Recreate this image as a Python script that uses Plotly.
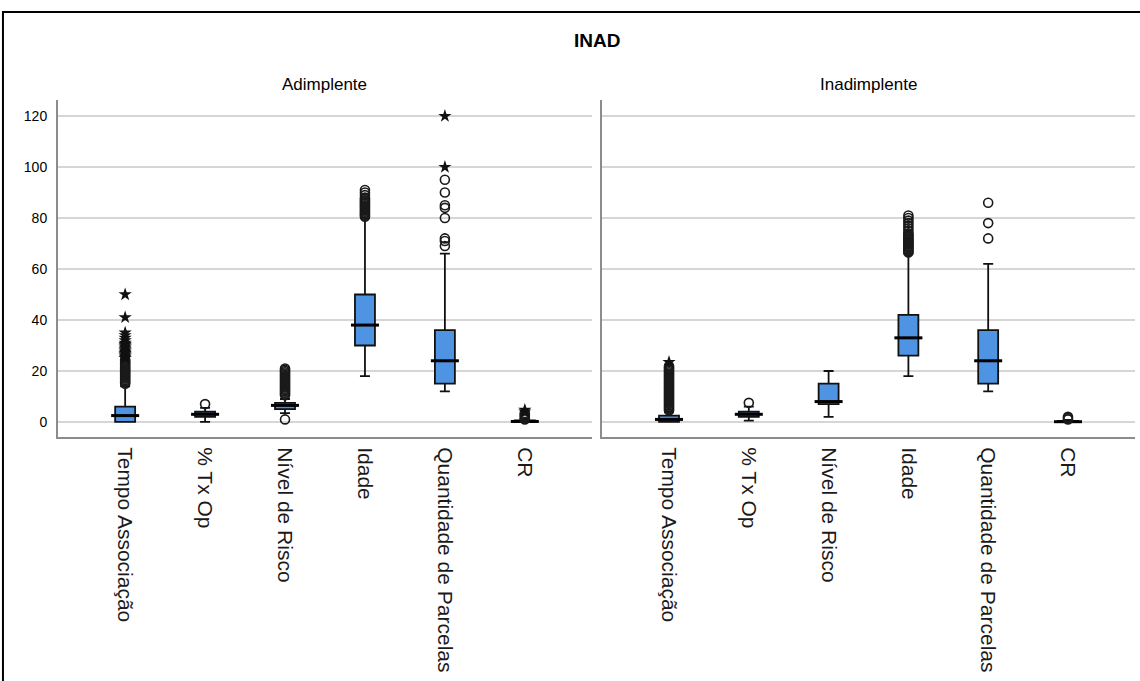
import plotly.graph_objects as go

categories = ["Tempo Associação", "% Tx Op", "Nível de Risco", "Idade", "Quantidade de Parcelas", "CR"]
y_ticks = [0, 20, 40, 60, 80, 100, 120]

# Adimplente panel
adim_q1 = [0, 2, 5, 30, 15, 0]
adim_median = [2.5, 3, 6.5, 38, 24, 0.2]
adim_q3 = [6, 4, 7.5, 50, 36, 0.6]
adim_low = [0, 0, 3.5, 18, 12, 0]
adim_high = [14, 5.5, 9, 80, 66, 1.2]
adim_circles = {
    "Tempo Associação": [15, 15.5, 16, 16.5, 17, 17.5, 18, 18.5, 19, 19.5, 20, 20.5,
                         21, 21.5, 22, 22.5, 23, 23.5, 24, 24.5],
    "% Tx Op": [7],
    "Nível de Risco": [1, 10.5, 11, 11.5, 12, 12.5, 13, 13.5, 14, 14.5, 15, 15.5, 16,
                       16.5, 17, 17.5, 18, 18.5, 19, 19.5, 20, 20.5, 21],
    "Idade": [80.5, 81, 81.5, 82, 82.5, 83, 83.5, 84, 84.5, 85, 85.5, 86, 86.5, 87,
              87.5, 88, 89, 90, 91],
    "Quantidade de Parcelas": [69, 71, 72, 80, 84, 85, 90, 95],
    "CR": [1, 1.5, 2, 2.5, 3, 3.5],
}
adim_stars = {
    "Tempo Associação": [25, 25.5, 26, 26.5, 27, 27.5, 28, 28.5, 29, 29.5, 30, 30.5,
                         31, 32, 33, 34, 35, 41, 50],
    "Quantidade de Parcelas": [100, 120],
    "CR": [4, 4.7],
}

# Inadimplente panel
inad_q1 = [0, 2, 7, 26, 15, 0]
inad_median = [1, 3, 8, 33, 24, 0.1]
inad_q3 = [2.5, 4, 15, 42, 36, 0.4]
inad_low = [0, 0.5, 2, 18, 12, 0]
inad_high = [4, 6, 20, 66, 62, 0.8]
inad_circles = {
    "Tempo Associação": [4.5, 5, 5.5, 6, 6.5, 7, 7.5, 8, 8.5, 9, 9.5, 10, 10.5, 11,
                         11.5, 12, 12.5, 13, 13.5, 14, 14.5, 15, 15.5, 16, 16.5, 17,
                         17.5, 18, 18.5, 19, 19.5, 20, 20.5, 21, 21.5, 22],
    "% Tx Op": [7.5],
    "Idade": [66.5, 67, 67.5, 68, 68.5, 69, 69.5, 70, 70.5, 71, 71.5, 72, 72.5, 73,
              73.5, 74, 75, 76, 77, 78, 79, 80, 81],
    "Quantidade de Parcelas": [72, 78, 86],
    "CR": [1, 1.5, 2],
}
inad_stars = {
    "Tempo Associação": [23.5],
}

FONT = "Liberation Sans, Arial, sans-serif"
BOX_FILL = "#4f93e3"

fig = go.Figure()


def add_panel(xa, ya, q1, med, q3, low, high, circles, stars):
    fig.add_trace(go.Box(
        x=categories, q1=q1, median=med, q3=q3, lowerfence=low, upperfence=high,
        boxpoints=False, width=0.25, whiskerwidth=0.5,
        fillcolor=BOX_FILL, line=dict(color="#111111", width=1.8),
        xaxis=xa, yaxis=ya, showlegend=False, hoverinfo="skip",
    ))
    fig.add_trace(go.Scatter(
        x=categories, y=med, mode="markers",
        marker=dict(symbol="line-ew", size=20, line=dict(color="#000000", width=3)),
        xaxis=xa, yaxis=ya, showlegend=False, hoverinfo="skip",
    ))
    cx, cy = [], []
    for c, vals in circles.items():
        cx += [c] * len(vals)
        cy += vals
    fig.add_trace(go.Scatter(
        x=cx, y=cy, mode="markers",
        marker=dict(symbol="circle-open", size=9, color="#1a1a1a", line=dict(width=1.6)),
        xaxis=xa, yaxis=ya, showlegend=False, hoverinfo="skip",
    ))
    sx, sy = [], []
    for c, vals in stars.items():
        sx += [c] * len(vals)
        sy += vals
    fig.add_trace(go.Scatter(
        x=sx, y=sy, mode="markers",
        marker=dict(symbol="star", size=10, color="#111111"),
        xaxis=xa, yaxis=ya, showlegend=False, hoverinfo="skip",
    ))


add_panel("x", "y", adim_q1, adim_median, adim_q3, adim_low, adim_high, adim_circles, adim_stars)
add_panel("x2", "y2", inad_q1, inad_median, inad_q3, inad_low, inad_high, inad_circles, inad_stars)

xcommon = dict(
    type="category", categoryorder="array", categoryarray=categories,
    range=[-0.84, 5.84], showline=True, linecolor="#8c8c8c", linewidth=2,
    showgrid=False, zeroline=False, tickangle=90, ticks="",
    tickfont=dict(family=FONT, size=21, color="#1a1a1a"), ticklabelstandoff=4,
)
ycommon = dict(
    range=[-5.9, 126.3], tickvals=y_ticks, showline=True, linecolor="#8c8c8c", linewidth=2,
    showgrid=True, gridcolor="#d6d6d6", gridwidth=2, zeroline=False, ticks="",
)

fig.update_layout(
    width=1140, height=681,
    margin=dict(l=58, r=5, t=100, b=244),
    paper_bgcolor="white", plot_bgcolor="white",
    font=dict(family=FONT, color="#000000"),
    xaxis=dict(domain=[0, 0.4958], anchor="y", **xcommon),
    xaxis2=dict(domain=[0.5051, 1], anchor="y2", **xcommon),
    yaxis=dict(anchor="x", tickfont=dict(family=FONT, size=14, color="#000000"),
               ticklabelstandoff=6, **ycommon),
    yaxis2=dict(anchor="x2", matches="y", showticklabels=False, **ycommon),
    annotations=[
        dict(text="<b>INAD</b>", x=0.5, y=1.178, xref="paper", yref="paper",
             xanchor="center", yanchor="middle", showarrow=False,
             font=dict(family=FONT, size=19, color="#000000")),
        dict(text="Adimplente", x=0.2479, y=1.047, xref="paper", yref="paper",
             xanchor="center", yanchor="middle", showarrow=False,
             font=dict(family=FONT, size=17, color="#000000")),
        dict(text="Inadimplente", x=0.7526, y=1.047, xref="paper", yref="paper",
             xanchor="center", yanchor="middle", showarrow=False,
             font=dict(family=FONT, size=17, color="#000000")),
    ],
    shapes=[
        dict(type="rect", xref="paper", yref="paper",
             x0=-0.0511, x1=1.03, y0=-0.9, y1=1.261,
             line=dict(color="#000000", width=2), fillcolor="rgba(0,0,0,0)", layer="below"),
    ],
)

fig.write_html("out.html", config={"displayModeBar": False},
               post_script="document.body.style.margin='0';")
